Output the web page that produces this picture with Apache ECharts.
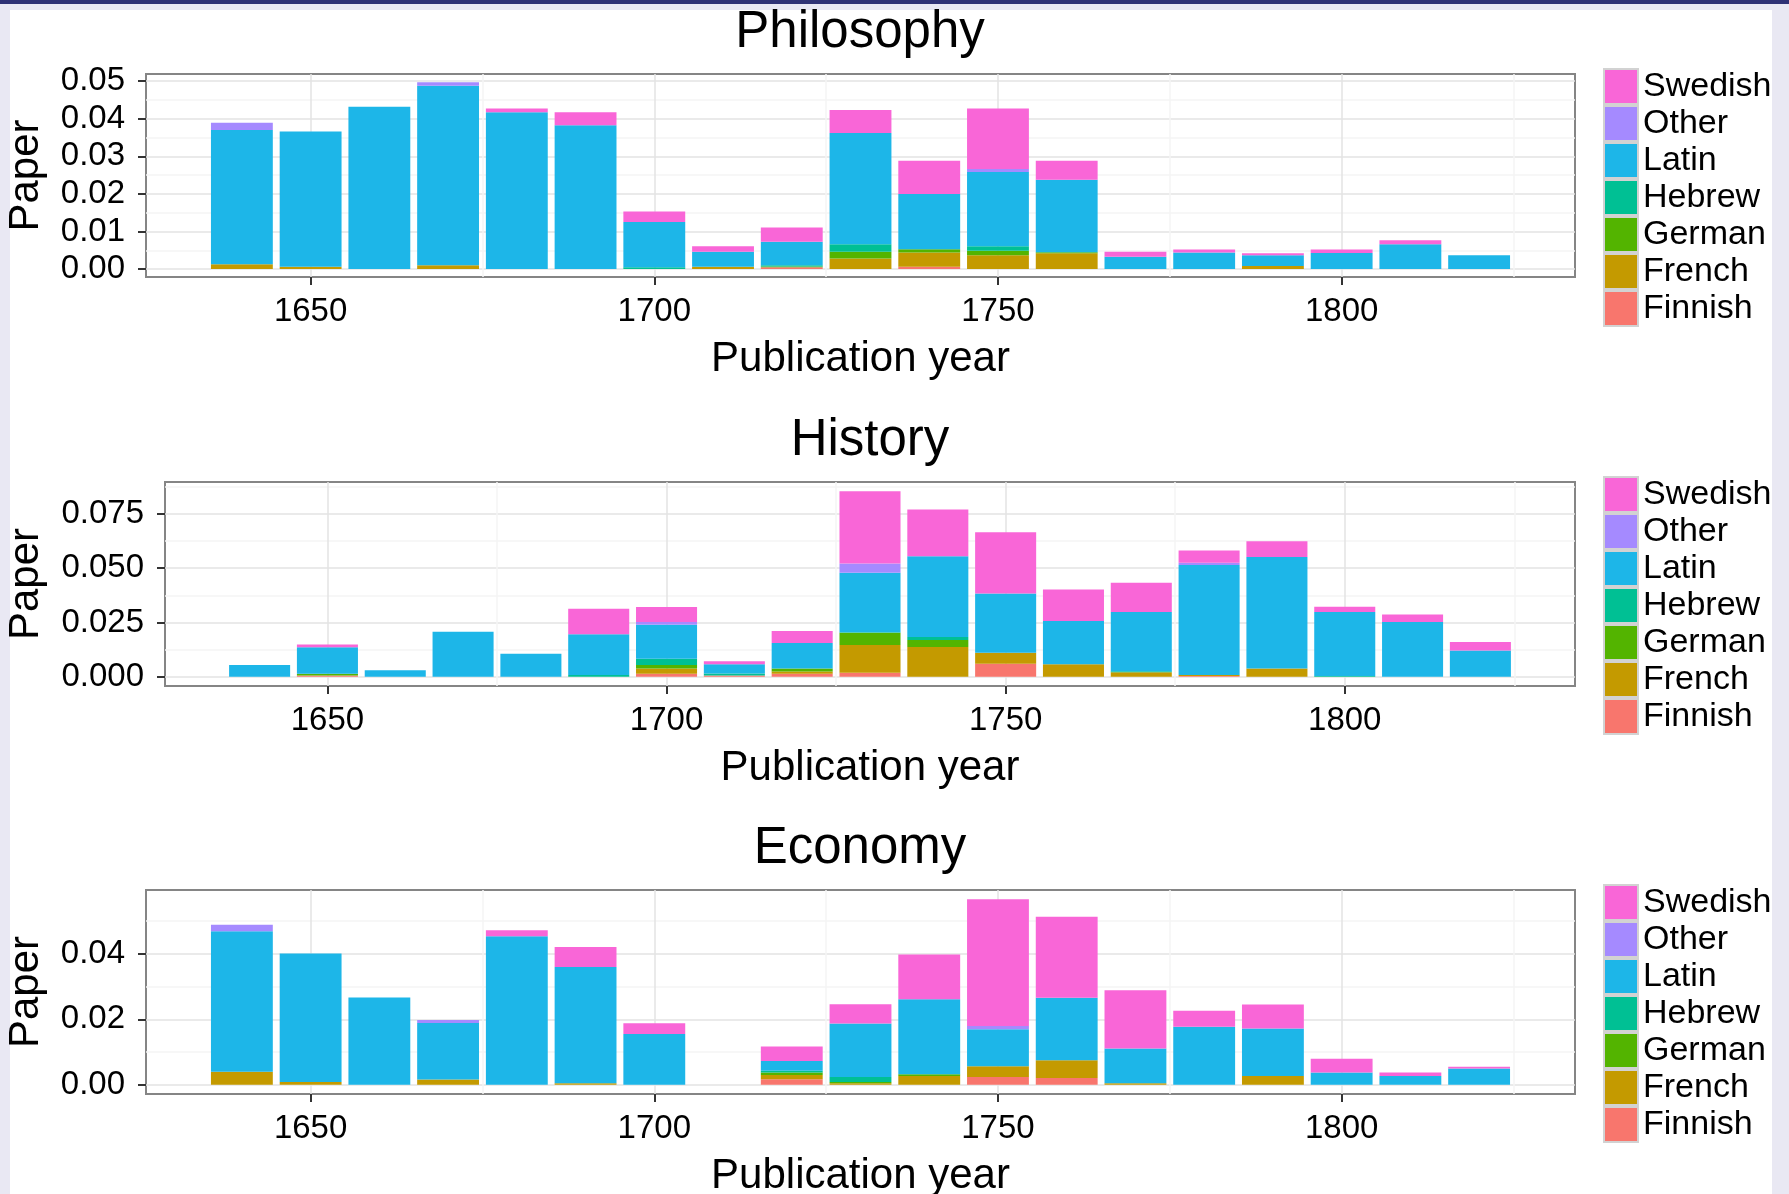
<!DOCTYPE html>
<html>
<head>
<meta charset="utf-8">
<script src="https://cdn.jsdelivr.net/npm/echarts@6/dist/echarts.min.js"></script>
<style>
  body { margin: 0; background: #e9e8f3; }
  #topbar { position: absolute; left: 0; top: 0; width: 1789px; height: 4px; background: #2f3275; }
  #paper { position: absolute; left: 10px; top: 10px; width: 1762px; height: 1184px; background: #fff; }
  #main { position: absolute; left: 0; top: 0; width: 1789px; height: 1194px; }
</style>
</head>
<body>
<div id="topbar"></div>
<div id="paper"></div>
<div id="main"></div>
<script>
// bin centres (10-year bins)
var years = [1640, 1650, 1660, 1670, 1680, 1690, 1700, 1710, 1720, 1730, 1740, 1750, 1760, 1770, 1780, 1790, 1800, 1810, 1820];

// stacking order, bottom to top
var languages = ['Finnish', 'French', 'German', 'Hebrew', 'Latin', 'Other', 'Swedish'];
var legendOrder = ['Swedish', 'Other', 'Latin', 'Hebrew', 'German', 'French', 'Finnish'];
var langColors = ['#F8766D', '#C49A00', '#53B400', '#00C094', '#1DB6E8', '#A58AFF', '#F966D7'];

// Philosophy
var philFinnish = [0, 0, 0, 0, 0, 0, 0, 0, 0.0005, 0, 0.0006, 0, 0, 0, 0, 0, 0, 0, 0];
var philFrench  = [0.0013, 0.0006, 0, 0.0010, 0, 0, 0, 0.0006, 0, 0.0028, 0.0038, 0.0037, 0.0042, 0, 0, 0.0008, 0, 0, 0];
var philGerman  = [0, 0, 0, 0, 0, 0, 0, 0, 0.0002, 0.0018, 0.0009, 0.0012, 0.0003, 0, 0, 0, 0, 0, 0];
var philHebrew  = [0, 0, 0, 0, 0, 0, 0.0005, 0, 0.0003, 0.0020, 0, 0.0012, 0, 0, 0, 0, 0, 0, 0];
var philLatin   = [0.0357, 0.0360, 0.0432, 0.0478, 0.0417, 0.0383, 0.0120, 0.0040, 0.0063, 0.0296, 0.0147, 0.0197, 0.0193, 0.0033, 0.0044, 0.0029, 0.0043, 0.0066, 0.0037];
var philOther   = [0.0019, 0, 0, 0.0009, 0, 0, 0, 0, 0, 0, 0, 0.0008, 0, 0, 0, 0, 0, 0, 0];
var philSwedish = [0, 0, 0, 0, 0.0010, 0.0034, 0.0028, 0.0015, 0.0038, 0.0061, 0.0088, 0.0161, 0.0050, 0.0013, 0.0008, 0.0005, 0.0009, 0.0011, 0];

// History
var histFinnish = [0, 0.0005, 0, 0, 0, 0, 0.0014, 0.0005, 0.0014, 0.0018, 0, 0.0060, 0, 0, 0.0003, 0, 0, 0, 0];
var histFrench  = [0, 0, 0, 0, 0, 0, 0.0024, 0, 0.0010, 0.0128, 0.0137, 0.0050, 0.0057, 0.0020, 0.0005, 0.0038, 0, 0, 0];
var histGerman  = [0, 0.0008, 0, 0, 0, 0, 0.0016, 0, 0.0014, 0.0056, 0.0032, 0, 0, 0, 0, 0, 0, 0, 0];
var histHebrew  = [0, 0, 0, 0, 0, 0.0008, 0.0029, 0.0010, 0, 0.0003, 0.0014, 0, 0, 0.0005, 0, 0, 0.0003, 0, 0];
var histLatin   = [0.0054, 0.0123, 0.0029, 0.0207, 0.0106, 0.0187, 0.0156, 0.0042, 0.0117, 0.0274, 0.0372, 0.0273, 0.0199, 0.0273, 0.0506, 0.0513, 0.0295, 0.0252, 0.0121];
var histOther   = [0, 0, 0, 0, 0, 0, 0.0013, 0, 0, 0.0042, 0, 0, 0, 0, 0.0011, 0, 0, 0, 0];
var histSwedish = [0, 0.0012, 0, 0, 0, 0.0118, 0.0069, 0.0014, 0.0055, 0.0333, 0.0215, 0.0283, 0.0146, 0.0135, 0.0056, 0.0073, 0.0024, 0.0035, 0.0039];

// Economy
var econFinnish = [0, 0, 0, 0, 0, 0, 0, 0, 0.0017, 0, 0, 0.0024, 0.0021, 0, 0, 0, 0, 0, 0];
var econFrench  = [0.0040, 0.0009, 0, 0.0016, 0, 0.0005, 0, 0, 0.0013, 0.0005, 0.0027, 0.0033, 0.0054, 0.0005, 0, 0.0027, 0, 0, 0];
var econGerman  = [0, 0, 0, 0, 0, 0, 0, 0, 0.0008, 0.0004, 0.0005, 0, 0, 0, 0, 0, 0, 0, 0];
var econHebrew  = [0, 0, 0, 0, 0, 0, 0, 0, 0.0005, 0.0015, 0, 0, 0, 0, 0, 0, 0, 0, 0];
var econLatin   = [0.0429, 0.0392, 0.0267, 0.0173, 0.0454, 0.0355, 0.0155, 0, 0.0030, 0.0163, 0.0229, 0.0113, 0.0191, 0.0106, 0.0177, 0.0145, 0.0038, 0.0027, 0.0050];
var econOther   = [0.0020, 0, 0, 0.0009, 0, 0, 0, 0, 0, 0, 0, 0.0010, 0, 0, 0, 0, 0, 0, 0];
var econSwedish = [0, 0, 0, 0, 0.0018, 0.0061, 0.0033, 0, 0.0044, 0.0059, 0.0137, 0.0387, 0.0247, 0.0178, 0.0049, 0.0073, 0.0042, 0.0011, 0.0005];

// tick values
var xTicks = [1650, 1700, 1750, 1800];
var xMinorTicks = [1675, 1725, 1775, 1825];
var philYTicks = [0, 0.01, 0.02, 0.03, 0.04, 0.05];
var philYMinor = [0.005, 0.015, 0.025, 0.035, 0.045];
var histYTicks = [0, 0.025, 0.05, 0.075];
var histYMinor = [0.0125, 0.0375, 0.0625, 0.0875];
var econYTicks = [0, 0.02, 0.04];
var econYMinor = [0.01, 0.03, 0.05];

var font = "'Liberation Sans', Arial, Helvetica, sans-serif";
var xMin = 1626.05, xMax = 1833.95;

var panels = [
  { title: 'Philosophy', series: [philFinnish, philFrench, philGerman, philHebrew, philLatin, philOther, philSwedish],
    yTicks: philYTicks, yMinor: philYMinor, yMin: -0.0021, yMax: 0.0519, digits: 2,
    grid: { left: 146, top: 74, width: 1429, height: 203 }, titleTop: 7, titleX: 860, legendTop: 68, nameGap: 99 },
  { title: 'History', series: [histFinnish, histFrench, histGerman, histHebrew, histLatin, histOther, histSwedish],
    yTicks: histYTicks, yMinor: histYMinor, yMin: -0.0043, yMax: 0.0897, digits: 3,
    grid: { left: 165, top: 482, width: 1410, height: 204 }, titleTop: 415, titleX: 870, legendTop: 476, nameGap: 118 },
  { title: 'Economy', series: [econFinnish, econFrench, econGerman, econHebrew, econLatin, econOther, econSwedish],
    yTicks: econYTicks, yMinor: econYMinor, yMin: -0.0028, yMax: 0.0595, digits: 2,
    grid: { left: 146, top: 890, width: 1429, height: 204 }, titleTop: 823, titleX: 860, legendTop: 884, nameGap: 99 }
];

var chart = echarts.init(document.getElementById('main'));

var option = {
  animation: false,
  backgroundColor: 'transparent',
  title: [], grid: [], xAxis: [], yAxis: [], legend: [], series: []
};

panels.forEach(function (p, i) {
  option.title.push({
    text: p.title, left: p.titleX, top: p.titleTop, textAlign: 'center', padding: 0,
    textStyle: { fontSize: 51, fontWeight: 'normal', color: '#000', fontFamily: font }
  });
  option.grid.push({
    left: p.grid.left, top: p.grid.top, width: p.grid.width, height: p.grid.height,
    show: true, backgroundColor: '#fff', borderColor: '#858585', borderWidth: 2,
    containLabel: false, outerBoundsMode: 'none'
  });
  // main x axis
  option.xAxis.push({
    type: 'value', gridIndex: i, min: xMin, max: xMax, position: 'bottom',
    name: 'Publication year', nameLocation: 'middle', nameGap: 61,
    nameTextStyle: { fontSize: 42, color: '#000', fontFamily: font },
    axisLine: { show: false, onZero: false },
    axisTick: { show: true, customValues: xTicks, length: 8, lineStyle: { color: '#333', width: 2 } },
    axisLabel: { customValues: xTicks, fontSize: 33, color: '#000', fontFamily: font, margin: 18,
      formatter: function (v) { return String(v); } },
    splitLine: { show: true, lineStyle: { color: '#e3e3e3', width: 1.5 } }
  });
  // minor x grid
  option.xAxis.push({
    type: 'value', gridIndex: i, min: xMin, max: xMax, position: 'top',
    axisLine: { show: false, onZero: false },
    axisTick: { show: false, customValues: xMinorTicks },
    axisLabel: { show: false },
    splitLine: { show: true, lineStyle: { color: '#f4f4f4', width: 1.5 } }
  });
  // main y axis
  option.yAxis.push({
    type: 'value', gridIndex: i, min: p.yMin, max: p.yMax, position: 'left',
    name: 'Paper', nameLocation: 'middle', nameGap: p.nameGap, nameRotate: 90,
    nameTextStyle: { fontSize: 42, color: '#000', fontFamily: font },
    axisLine: { show: false, onZero: false },
    axisTick: { show: true, customValues: p.yTicks, length: 8, lineStyle: { color: '#333', width: 2 } },
    axisLabel: { customValues: p.yTicks, fontSize: 33, color: '#000', fontFamily: font, margin: 21,
      formatter: (function (d) { return function (v) { return v.toFixed(d); }; })(p.digits) },
    splitLine: { show: true, lineStyle: { color: '#e3e3e3', width: 1.5 } }
  });
  // minor y grid
  option.yAxis.push({
    type: 'value', gridIndex: i, min: p.yMin, max: p.yMax, position: 'right',
    axisLine: { show: false, onZero: false },
    axisTick: { show: false, customValues: p.yMinor },
    axisLabel: { show: false },
    splitLine: { show: true, lineStyle: { color: '#f4f4f4', width: 1.5 } }
  });

  option.legend.push({
    orient: 'vertical', left: 1603, top: p.legendTop, padding: 0,
    itemWidth: 34, itemHeight: 35, itemGap: 0, icon: 'rect',
    selectedMode: false, data: legendOrder,
    itemStyle: { borderColor: '#d2d2d2', borderWidth: 2 },
    textStyle: { fontSize: 34, color: '#000', fontFamily: font, lineHeight: 32, padding: [3, 0, 0, 0] }
  });

  // bars are 9 years wide (0.9 of a 10-year bin)
  var barPx = 9 * p.grid.width / (xMax - xMin);
  languages.forEach(function (lang, k) {
    var vals = p.series[k];
    option.series.push({
      type: 'bar', name: lang, stack: 'panel' + i,
      xAxisIndex: 2 * i, yAxisIndex: 2 * i,
      barWidth: barPx,
      encode: { x: 1, y: 0 },
      data: years.map(function (yr, j) { return [vals[j], yr]; }),
      itemStyle: { color: langColors[k] },
      emphasis: { disabled: true },
      silent: true
    });
  });
});

chart.setOption(option);
</script>
</body>
</html>
